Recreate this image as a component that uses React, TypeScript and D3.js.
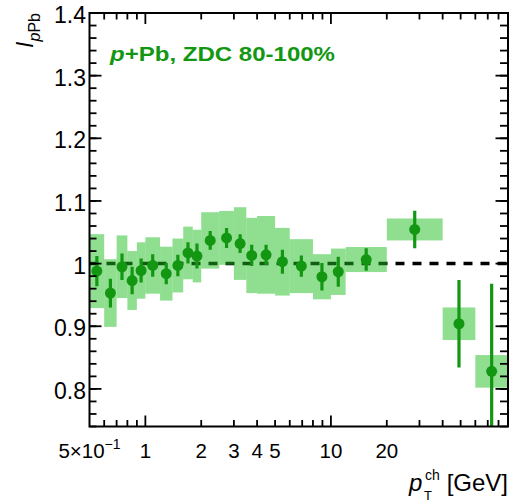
import React from "react";
import * as d3 from "d3";

// Bin edges in pT (GeV)
const binEdges = [0.5, 0.6, 0.7, 0.8, 0.9, 1.0, 1.2, 1.4, 1.6, 1.8, 2.0, 2.5, 3.0, 3.5, 4, 5, 6, 8, 10, 12, 20, 40, 60, 90];
// I_pPb values
const values = [0.988, 0.953, 0.995, 0.973, 0.989, 0.997, 0.984, 0.997, 1.017, 1.012, 1.037, 1.041, 1.032, 1.013, 1.014, 1.003, 0.996, 0.979, 0.987, 1.0065, 1.0545, 0.904, 0.828];
const statErr = [0.024, 0.023, 0.021, 0.022, 0.019, 0.018, 0.017, 0.017, 0.017, 0.02, 0.015, 0.016, 0.015, 0.017, 0.016, 0.019, 0.017, 0.022, 0.024, 0.018, 0.03, 0.07, 0.14];
const systErr = [0.059, 0.054, 0.05, 0.047, 0.045, 0.045, 0.043, 0.043, 0.042, 0.042, 0.045, 0.043, 0.058, 0.06, 0.062, 0.054, 0.043, 0.036, 0.037, 0.02, 0.0175, 0.026, 0.026];

const yMajorTicks = [0.8, 0.9, 1.0, 1.1, 1.2, 1.3, 1.4];
const yTickLabels = ["0.8", "0.9", "1", "1.1", "1.2", "1.3", "1.4"];
const xLabelTicks = [1, 2, 3, 4, 5, 10, 20];
const xLabelTexts = ["1", "2", "3", "4", "5", "10", "20"];
const xMajorTicks = [1, 10];
const xMinorTicks = [0.6, 0.7, 0.8, 0.9, 2, 3, 4, 5, 6, 7, 8, 9, 20, 30, 40, 50, 60, 70, 80];

const W = 510, H = 504;
const L = 89.5, R = 508, T = 13, B = 426.5;
const GREEN = "#139713";
const BOX = "#22c022";
const FONT = "'Liberation Sans', Arial, Helvetica, sans-serif";

export default function App() {
  const x = d3.scaleLog().domain([0.5, 90]).range([L, R]);
  const y = d3.scaleLinear().domain([0.74, 1.4]).range([B, T]);

  const yMinor = d3.range(0.74, 1.4001, 0.02).map((v) => +v.toFixed(2));

  const bins = values.map((v, i) => {
    const lo = binEdges[i], hi = binEdges[i + 1];
    return { lo, hi, c: Math.sqrt(lo * hi), v, s: statErr[i], sy: systErr[i] };
  });

  return (
    <svg width={W} height={H} style={{ position: "absolute", left: 0, top: 0, background: "#fff" }} fontFamily={FONT}>
      <defs>
        <clipPath id="plotclip">
          <rect x={L} y={T} width={R - L} height={B - T} />
        </clipPath>
      </defs>
      <g clipPath="url(#plotclip)">
        <line x1={L} x2={R} y1={y(1)} y2={y(1)} stroke="#000" strokeWidth={3.5} strokeDasharray="9,8" />
        {bins.map((b, i) => (
          <rect key={"b" + i} x={x(b.lo)} width={x(b.hi) - x(b.lo)} y={y(b.v + b.sy)} height={y(b.v - b.sy) - y(b.v + b.sy)} fill={BOX} fillOpacity={0.5} />
        ))}
        {bins.map((b, i) => (
          <line key={"e" + i} x1={x(b.c)} x2={x(b.c)} y1={y(b.v + b.s)} y2={y(b.v - b.s)} stroke={GREEN} strokeWidth={3.2} />
        ))}
        {bins.map((b, i) => (
          <circle key={"p" + i} cx={x(b.c)} cy={y(b.v)} r={5.5} fill={GREEN} />
        ))}
      </g>

      {/* ticks */}
      <g stroke="#000" strokeWidth={1.8}>
        {yMinor.map((v, i) => (
          <g key={"ym" + i}>
            <line x1={L} x2={L + 7} y1={y(v)} y2={y(v)} />
            <line x1={R} x2={R - 8} y1={y(v)} y2={y(v)} />
          </g>
        ))}
        {yMajorTicks.map((v, i) => (
          <g key={"yM" + i}>
            <line x1={L} x2={L + 12} y1={y(v)} y2={y(v)} />
            <line x1={R} x2={R - 12.5} y1={y(v)} y2={y(v)} />
          </g>
        ))}
        {xMinorTicks.map((v, i) => (
          <g key={"xm" + i}>
            <line x1={x(v)} x2={x(v)} y1={B} y2={B - 6.5} />
            <line x1={x(v)} x2={x(v)} y1={T} y2={T + 6.5} />
          </g>
        ))}
        {xMajorTicks.map((v, i) => (
          <g key={"xM" + i}>
            <line x1={x(v)} x2={x(v)} y1={B} y2={B - 11} />
            <line x1={x(v)} x2={x(v)} y1={T} y2={T + 11} />
          </g>
        ))}
      </g>
      <rect x={L} y={T} width={R - L} height={B - T} fill="none" stroke="#000" strokeWidth={2} />

      {/* y tick labels */}
      {yMajorTicks.map((v, i) => (
        <text key={"yl" + i} x={86} y={y(v) + 10} textAnchor="end" fontSize={23} fill="#000">
          {yTickLabels[i]}
        </text>
      ))}

      {/* x tick labels */}
      <text x={x(0.5)} y={458} textAnchor="middle" fontSize={20.5} fill="#000">
        5×10<tspan fontSize={14} dy={-9}>−1</tspan>
      </text>
      {xLabelTicks.map((v, i) => (
        <text key={"xl" + i} x={x(v)} y={458} textAnchor="middle" fontSize={20.5} fill="#000">
          {xLabelTexts[i]}
        </text>
      ))}

      {/* x axis title */}
      <text x={409} y={491} fontSize={24} fontStyle="italic" fill="#000">p</text>
      <text x={425} y={480} fontSize={14} fill="#000">ch</text>
      <text x={424} y={500} fontSize={13} fill="#000">T</text>
      <text x={508} y={491} textAnchor="end" fontSize={24} fill="#000">[GeV]</text>

      {/* y axis title */}
      <text transform="rotate(-90)" x={-13} y={33} textAnchor="end" fill="#000">
        <tspan fontSize={23} fontStyle="italic">I</tspan>
        <tspan fontSize={16} dy={7} fontStyle="italic">p</tspan>
        <tspan fontSize={16}>Pb</tspan>
      </text>

      {/* annotation */}
      <text x={110} y={61} fontSize={21} fontWeight="bold" fill={GREEN} textLength={225} lengthAdjust="spacingAndGlyphs">
        <tspan fontStyle="italic">p</tspan>+Pb, ZDC 80-100%
      </text>
    </svg>
  );
}
